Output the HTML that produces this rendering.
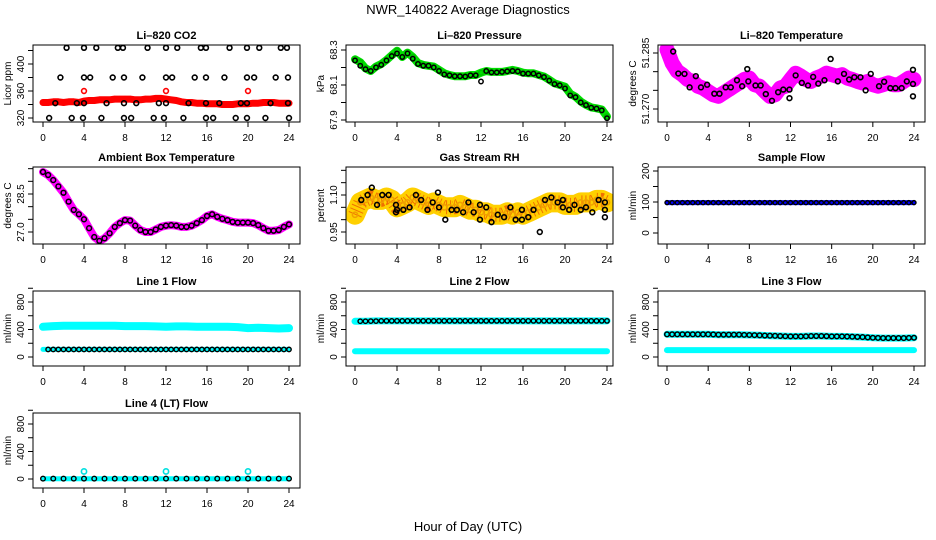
<!DOCTYPE html>
<html><head><meta charset="utf-8"><style>
html,body{margin:0;padding:0;background:#fff;}
svg{display:block;font-family:"Liberation Sans",sans-serif;}
</style></head><body>
<svg id="c" width="936" height="540" viewBox="0 0 936 540" xmlns="http://www.w3.org/2000/svg">
<text x="468" y="14" text-anchor="middle" font-size="13">NWR_140822  Average Diagnostics</text>
<text x="468" y="531" text-anchor="middle" font-size="13">Hour of Day (UTC)</text>
</svg>
<script>
// ---- data ----
const halfHours = [0,0.5,1,1.5,2,2.5,3,3.5,4,4.5,5,5.5,6,6.5,7,7.5,8,8.5,9,9.5,10,10.5,11,11.5,12,12.5,13,13.5,14,14.5,15,15.5,16,16.5,17,17.5,18,18.5,19,19.5,20,20.5,21,21.5,22,22.5,23,23.5,24];
const hours = [0,1,2,3,4,5,6,7,8,9,10,11,12,13,14,15,16,17,18,19,20,21,22,23,24];
const xTicks = [0,4,8,12,16,20,24];

const co2Red = [343,343,344,344,343,344,344,343,345,346,346,347,347,347,348,348,348,348,347,347,348,348,349,349,348,347,346,344,343,343,342,342,341,341,341,340,340,340,341,341,341,342,342,343,343,343,342,342,342];
const co2RedOutH = [4,12,20];
const co2RedOutV = [360,360,360];
const co2TopH = [2.3,4.0,5.2,7.3,7.8,10.2,12.0,13.1,15.4,15.9,18.2,19.9,21.1,23.2,23.8];
const co2TopV = [424,424,424,424,424,424,424,424,424,424,424,424,424,424,424];
const co2R380H = [1.7,4.0,4.6,6.8,7.9,9.7,12.0,12.6,14.8,15.9,17.7,19.9,20.6,22.7,23.9];
const co2R380V = [380,380,380,380,380,380,380,380,380,380,380,380,380,380,380];
const co2R345H = [1.2,3.3,4.0,6.2,7.9,9.1,11.3,12.0,14.2,15.9,17.2,19.3,19.9,22.2,23.9];
const co2R345V = [342,342,342,342,342,342,342,342,342,342,342,342,342,342,342];
const co2R320H = [0.6,2.8,3.9,5.7,7.9,8.6,10.8,11.8,13.7,15.9,16.6,18.8,19.9,21.7,24.0];
const co2R320V = [320,320,320,320,320,320,320,320,320,320,320,320,320,320,320];

const pressGreen = [68.247,68.23,68.195,68.18,68.205,68.22,68.243,68.27,68.296,68.26,68.285,68.26,68.225,68.215,68.21,68.205,68.186,68.167,68.157,68.15,68.15,68.15,68.157,68.157,68.17,68.18,68.175,68.175,68.175,68.18,68.186,68.18,68.17,68.167,68.167,68.157,68.148,68.13,68.11,68.1,68.09,68.05,68.033,68.005,67.986,67.972,67.967,67.96,67.92];
const pressBlack = [68.24,68.21,68.19,68.18,68.2,68.215,68.24,68.265,68.28,68.26,68.28,68.25,68.22,68.21,68.21,68.2,68.18,68.16,68.155,68.15,68.15,68.148,68.155,68.155,68.12,68.18,68.172,68.172,68.175,68.178,68.18,68.178,68.165,68.165,68.165,68.155,68.145,68.125,68.105,68.098,68.08,68.04,68.03,68.0,67.985,67.97,67.965,67.955,67.91];

const tempMag = [51.2859,51.2823,51.2801,51.2792,51.2779,51.2774,51.2761,51.2756,51.2747,51.2738,51.2734,51.2743,51.2752,51.2761,51.277,51.2779,51.2783,51.2765,51.2761,51.2747,51.2734,51.2738,51.2756,51.2761,51.2779,51.2796,51.2788,51.2779,51.2774,51.2783,51.2788,51.2796,51.2792,51.2788,51.2792,51.2783,51.2779,51.2774,51.277,51.2774,51.2765,51.2761,51.2765,51.277,51.2765,51.2765,51.2774,51.2783,51.2779];
const tempBlackH = [0.6,1.1,1.7,2.2,2.8,3.3,3.9,4.6,5.1,5.7,6.2,6.8,7.3,7.8,7.9,8.6,9.1,9.6,10.2,10.8,11.3,11.9,11.9,12.5,13.1,13.7,14.2,14.7,15.3,15.9,16.6,17.2,17.7,18.2,18.8,19.3,19.8,20.6,21.1,21.7,22.2,22.8,23.3,23.9,23.9,23.9];
const tempBlackV = [51.2854,51.2795,51.2794,51.2758,51.2788,51.2758,51.2765,51.2741,51.2741,51.2758,51.2758,51.2777,51.2761,51.2807,51.2774,51.2763,51.2763,51.274,51.2722,51.2745,51.2752,51.2752,51.2729,51.279,51.277,51.2763,51.2786,51.2768,51.2777,51.2834,51.2774,51.2794,51.2779,51.2785,51.2785,51.275,51.2794,51.2761,51.2773,51.2756,51.2756,51.2756,51.2774,51.2805,51.2767,51.2734];

const ambient = [29.37,29.25,29.05,28.8,28.55,28.2,27.87,27.7,27.5,27.15,26.8,26.65,26.75,26.95,27.2,27.35,27.47,27.45,27.25,27.08,27.0,27.0,27.1,27.2,27.25,27.27,27.25,27.2,27.2,27.25,27.35,27.47,27.63,27.7,27.6,27.52,27.47,27.4,27.37,27.37,27.37,27.35,27.27,27.15,27.05,27.05,27.08,27.2,27.3];

const rhBand = [1.02,1.07,1.08,1.09,1.08,1.08,1.09,1.08,1.05,1.06,1.07,1.09,1.08,1.07,1.06,1.07,1.06,1.05,1.05,1.05,1.06,1.05,1.04,1.04,1.03,1.03,1.02,1.02,1.02,1.03,1.02,1.03,1.02,1.03,1.04,1.05,1.06,1.07,1.07,1.07,1.06,1.06,1.06,1.07,1.07,1.07,1.08,1.08,1.07];
const rhBlackH = [0.6,1.2,1.6,2.1,2.6,3.2,3.9,3.9,4.0,4.6,5.2,5.8,6.3,6.9,7.4,7.9,8.0,8.6,9.2,9.7,10.3,10.8,11.3,11.9,11.9,12.5,13.0,13.6,14.2,14.8,15.3,15.9,15.9,16.5,17.0,17.6,18.1,18.7,19.3,19.8,19.8,20.4,20.9,21.5,22.0,22.6,23.2,23.8,23.8,23.8];
const rhBlackV = [1.08,1.10,1.13,1.06,1.10,1.10,1.06,1.03,1.04,1.04,1.05,1.10,1.08,1.04,1.07,1.11,1.05,1.00,1.04,1.04,1.03,1.07,1.03,1.06,1.00,1.05,0.99,1.02,1.01,1.05,1.00,1.04,1.00,1.01,1.04,0.95,1.08,1.09,1.07,1.08,1.05,1.04,1.06,1.04,1.05,1.03,1.08,1.07,1.04,1.01];

const sampleFlow = [98,98,98,98,98,98,98,98,98,98,98,98,98,98,98,98,98,98,98,98,98,98,98,98,98,98,98,98,98,98,98,98,98,98,98,98,98,98,98,98,98,98,98,98,98,98,98,98,98];

const line1Upper = [440,450,455,455,455,455,455,455,450,450,450,445,440,445,445,440,440,440,440,435,420,425,420,415,420];
const line1Lower = [110,110,110,110,110,110,110,110,110,110,110,110,110,110,110,110,110,110,110,110,110,110,110,110,110];
const line1Black = [110,110,110,110,110,110,110,110,110,110,110,110,110,110,110,110,110,110,110,110,110,110,110,110,110,110,110,110,110,110,110,110,110,110,110,110,110,110,110,110,110,110,110,110,110,110,110,110];
const line2Upper = [520,520,525,525,525,525,525,525,525,525,525,525,525,525,525,525,525,525,525,525,525,525,525,525,525];
const line2Lower = [85,85,85,85,85,85,85,85,85,85,85,85,85,85,85,85,85,85,85,85,85,85,85,85,85];
const line2Black = [520,520,522,522,525,525,525,525,525,525,525,525,525,525,525,525,525,525,525,525,525,525,525,525,525,525,525,525,525,525,525,525,525,525,525,525,525,525,525,525,525,525,525,525,525,525,525,525];
const line3Upper = [330,330,330,330,330,325,325,325,320,315,310,305,300,300,305,305,300,300,295,290,280,275,275,275,280];
const line3Black = [330,330,330,330,330,330,330,330,330,328,325,325,325,325,325,322,320,318,315,312,310,308,305,302,300,300,300,302,305,305,305,303,300,300,300,298,295,292,290,285,280,278,275,275,275,275,275,278,280];
const line3Lower = [100,100,100,100,100,100,100,100,100,100,100,100,100,100,100,100,100,100,100,100,100,100,100,100,100];
const line4Base = [5,5,5,5,5,5,5,5,5,5,5,5,5,5,5,5,5,5,5,5,5,5,5,5,5];
const line4OutH = [4,12,20];
const line4OutV = [110,110,110];

// ---- layout ----
const NS = "http://www.w3.org/2000/svg";
const svg = document.getElementById('c');
const cols = [{x0:43,x1:289,l:33,r:300},{x0:355,x1:607,l:346,r:613},{x0:667,x1:914,l:658,r:925}];
const rows = [{t:45,b:122},{t:167,b:244},{t:291,b:366},{t:413,b:488}];
function mk(tag, attrs, parent){const e=document.createElementNS(NS,tag);for(const k in attrs)e.setAttribute(k,attrs[k]);(parent||svg).appendChild(e);return e;}

function panel(name, title, ylab, col, row, yRef, yTicks, yLabels){
  const c=cols[col], r=rows[row];
  const g=mk('g',{});
  
  
  const sx=h=>c.x0+(h/24)*(c.x1-c.x0);
  const sy=v=>yRef[1]+(v-yRef[0])*(yRef[3]-yRef[1])/(yRef[2]-yRef[0]);
  const clipId='clip-'+name;
  const cp=mk('clipPath',{id:clipId},g);
  mk('rect',{x:c.l,y:r.t,width:c.r-c.l,height:r.b-r.t},cp);
  const tt=mk('text',{x:(c.l+c.r)/2,y:r.t-6,'text-anchor':'middle','font-size':11,'font-weight':'bold'},g);
  tt.textContent=title;
  
  
  const xa=mk('g',{},g);
  
  
  xTicks.forEach(h=>{
    mk('line',{x1:sx(h),x2:sx(h),y1:r.b,y2:r.b+5,stroke:'#000','stroke-width':1},xa);
    const t=mk('text',{x:sx(h),y:r.b+19,'text-anchor':'middle','font-size':10},xa);
    t.textContent=h;
  });
  const ya=mk('g',{},g);
  
  
  yTicks.forEach(v=>{
    mk('line',{x1:c.l-5,x2:c.l,y1:sy(v),y2:sy(v),stroke:'#000','stroke-width':1},ya);
  });
  yLabels.forEach(v=>{
    const t=mk('text',{x:0,y:0,'text-anchor':'middle','font-size':10,transform:`translate(${c.l-9},${sy(v)}) rotate(-90)`},ya);
    t.textContent=v;
  });
  const yt=mk('text',{x:0,y:0,'text-anchor':'middle','font-size':10,transform:`translate(${c.l-22},${(r.t+r.b)/2}) rotate(-90)`},g);
  yt.textContent=ylab;
  
  
  const plot=mk('g',{'clip-path':`url(#${clipId})`},g);
  
  
  mk('rect',{x:c.l,y:r.t,width:c.r-c.l,height:r.b-r.t,fill:'none',stroke:'#000','stroke-width':1},g);
  return {sx,sy,plot};
}
function band(p, xs, vs, color, w, label, dash){
  const pts=xs.map((h,i)=>p.sx(h).toFixed(1)+','+p.sy(vs[i]).toFixed(1)).join(' ');
  const a={points:pts,fill:'none',stroke:color,'stroke-width':w,'stroke-linejoin':'round','stroke-linecap':'round'};
  if(dash){a['stroke-dasharray']=dash;a['stroke-linecap']='butt';}
  const pl=mk('polyline',a,p.plot);
  
  
}
function pts(p, xs, vs, color, label, rr, sw){
  const g=mk('g',{},p.plot);
  
  
  xs.forEach((h,i)=>{
    const e=mk('circle',{cx:p.sx(h),cy:p.sy(vs[i]),r:rr||2.4,fill:'none',stroke:color,'stroke-width':sw||1.6},g);
    
    
  });
}

// CO2
let p=panel('co2','Li\u2013820 CO2','Licor ppm',0,0,[320,118,400,64],[320,340,360,380,400,420],[320,360,400]);
band(p,halfHours,co2Red,'#f00',7,'co2-red-band');
pts(p,halfHours,co2Red,'#f00','co2-red-series');
pts(p,co2RedOutH,co2RedOutV,'#f00','co2-red-outliers');
pts(p,co2TopH,co2TopV,'#000','co2-black-top');
pts(p,co2R380H,co2R380V,'#000','co2-black-380');
pts(p,co2R345H,co2R345V,'#000','co2-black-345');
pts(p,co2R320H,co2R320V,'#000','co2-black-320');

// Pressure
p=panel('pressure','Li\u2013820 Pressure','kPa',1,0,[67.9,120,68.3,50],[67.9,68.0,68.1,68.2,68.3],['67.9','68.1','68.3']);
band(p,halfHours,pressGreen,'#00e000',8,'pressure-green-band');
pts(p,halfHours,pressGreen,'#00c000','pressure-green-series');
pts(p,halfHours,pressBlack,'#000','pressure-black-series',2.2,1.5);

// Temperature
p=panel('temperature','Li\u2013820 Temperature','degrees C',2,0,[51.270,109,51.285,53],[51.270,51.275,51.280,51.285],['51.270','51.285']);
band(p,halfHours,tempMag,'#f0f',15,'temperature-magenta-band');
pts(p,halfHours,tempMag,'#f0f','temperature-magenta-series',2.6,1.6);
pts(p,tempBlackH,tempBlackV,'#000','temperature-black-series');

// Ambient box temp
p=panel('ambient','Ambient Box Temperature','degrees C',0,1,[27.0,232,28.5,194],[27.0,27.5,28.0,28.5,29.0,29.5],['27.0','28.5']);
band(p,halfHours,ambient,'#f0f',8,'ambient-magenta-band');
pts(p,halfHours,ambient,'#000','ambient-black-series',2.4,1.5);

// Gas stream RH
p=panel('rh','Gas Stream RH','percent',1,1,[0.95,232,1.10,195],[0.95,1.00,1.05,1.10,1.15,1.20],['0.95','1.10']);
band(p,halfHours,rhBand,'#ffd000',20,'rh-yellow-band');
band(p,halfHours,rhBand,'#f07000',14,'rh-orange-speckle','1 3');
pts(p,halfHours,rhBand,'#f0a000','rh-yellow-series',2.6,1.6);
pts(p,rhBlackH,rhBlackV,'#000','rh-black-series');

// Sample flow
p=panel('sample-flow','Sample Flow','ml/min',2,1,[0,233,200,171],[0,50,100,150,200],[0,100,200]);
band(p,halfHours,sampleFlow,'#0000ff',5,'sample-flow-blue-band');
pts(p,halfHours,sampleFlow,'#000','sample-flow-black-series',2,1.4);

// Flow panels
const fTicks=[0,200,400,600,800,1000], fLabels=[0,400,800];
p=panel('line1-flow','Line 1 Flow','ml/min',0,2,[0,357,800,302],fTicks,fLabels);
band(p,hours,line1Upper,'#00ffff',8,'line1-cyan-upper');
band(p,hours,line1Lower,'#00ffff',5,'line1-cyan-lower');
pts(p,halfHours.slice(1),line1Black,'#000','line1-black-series',2.2,1.4);

p=panel('line2-flow','Line 2 Flow','ml/min',1,2,[0,357,800,302],fTicks,fLabels);
band(p,hours,line2Upper,'#00ffff',7,'line2-cyan-upper');
band(p,hours,line2Lower,'#00ffff',6,'line2-cyan-lower');
pts(p,halfHours.slice(1),line2Black,'#000','line2-black-series',2.2,1.4);

p=panel('line3-flow','Line 3 Flow','ml/min',2,2,[0,357,800,302],fTicks,fLabels);
band(p,hours,line3Upper,'#00ffff',7,'line3-cyan-upper');
band(p,hours,line3Lower,'#00ffff',6,'line3-cyan-lower');
pts(p,halfHours,line3Black,'#000','line3-black-series',2.3,1.5);

p=panel('line4-flow','Line 4 (LT) Flow','ml/min',0,3,[0,479,800,424],fTicks,fLabels);
band(p,hours,line4Base,'#00ffff',5,'line4-cyan-base');
pts(p,hours,line4Base,'#000','line4-black-series',2.3,1.4);
pts(p,line4OutH,line4OutV,'#00e0e0','line4-cyan-outliers',2.6,1.6);
</script>
</body></html>
